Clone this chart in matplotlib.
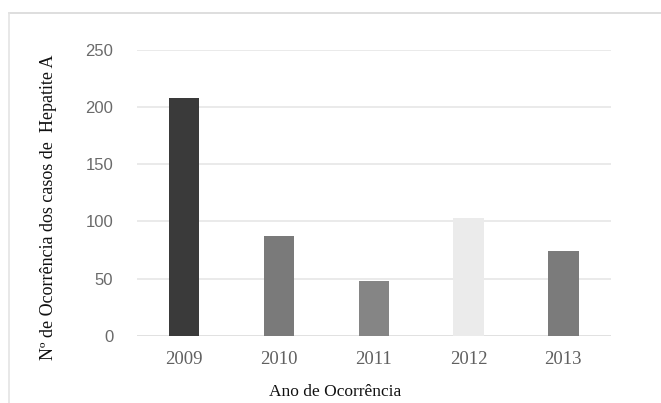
import matplotlib.pyplot as plt
from matplotlib.lines import Line2D

anos = ['2009', '2010', '2011', '2012', '2013']
casos = [208, 87, 48, 103, 74]
cores = ['#3a3a3a', '#7a7a7a', '#858585', '#ebebeb', '#7b7b7b']
y_ticks = [0, 50, 100, 150, 200, 250]


def main():
    fig = plt.figure(figsize=(6.61, 4.03), dpi=100)
    ax = fig.add_axes([0.207, 0.166, 0.717, 0.711])

    # moldura cinza clara em volta do grafico
    fig.add_artist(Line2D([0.014, 1.0], [0.968, 0.968], color='#d8d8d8', lw=1.2))
    fig.add_artist(Line2D([0.014, 0.014], [0.0, 0.968], color='#e4e4e4', lw=1.2))

    x = range(len(anos))
    ax.bar(x, casos, width=0.32, color=cores, zorder=3)

    ax.set_xlim(-0.5, 4.5)
    ax.set_ylim(0, 250)
    ax.set_yticks(y_ticks)
    ax.set_xticks(list(x))
    ax.set_xticklabels(anos, family='Liberation Serif', fontsize=13.5, color='#606060')
    ax.set_yticklabels([str(v) for v in y_ticks], family='Liberation Sans',
                       fontsize=12, color='#6a6a6a')
    ax.tick_params(axis='x', length=0, pad=11)
    ax.tick_params(axis='y', length=0, pad=17)

    ax.grid(axis='y', color='#e6e6e6', lw=1.2, zorder=0)
    ax.axhline(0, color='#e0e0e0', lw=1.2, zorder=2)
    for s in ax.spines.values():
        s.set_visible(False)

    ax.set_xlabel('Ano de Ocorrência', family='Liberation Serif', fontsize=12.5,
                  color='#111111', va='center')
    ax.xaxis.set_label_coords(0.418, -0.195)
    ax.set_ylabel('Nº de Ocorrência dos casos de  Hepatite A', family='Liberation Serif',
                  fontsize=13, color='#111111', va='center')
    ax.yaxis.set_label_coords(-0.187, 0.45)

    fig.savefig('out.png', dpi=100, facecolor='white')


if __name__ == "__main__":
    main()
